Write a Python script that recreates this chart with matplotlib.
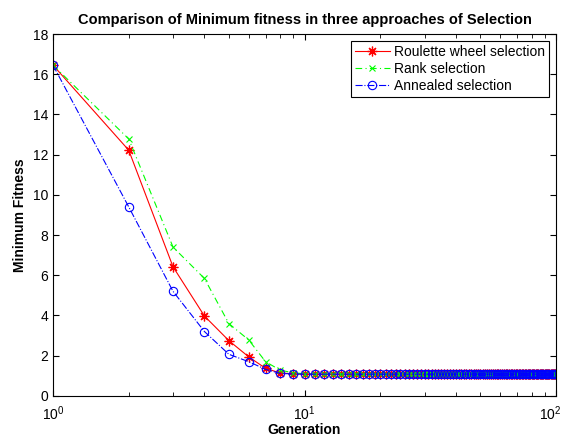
import matplotlib
matplotlib.use('Agg')
import matplotlib.pyplot as plt
import matplotlib.transforms as mtransforms
from matplotlib.ticker import LogLocator, NullFormatter

plt.rcParams['font.family'] = ['Liberation Sans', 'DejaVu Sans']

# generations 1..100
generation = list(range(1, 101))

roulette = [16.45, 12.22, 6.42, 3.97, 2.75, 1.94, 1.37, 1.14, 1.10, 1.09,
            1.08, 1.08, 1.08, 1.08, 1.08, 1.08, 1.08, 1.08, 1.08, 1.08,
            1.08, 1.08, 1.08, 1.08, 1.08, 1.08, 1.08, 1.08, 1.08, 1.08,
            1.08, 1.08, 1.08, 1.08, 1.08, 1.08, 1.08, 1.08, 1.08, 1.08,
            1.08, 1.08, 1.08, 1.08, 1.08, 1.08, 1.08, 1.08, 1.08, 1.08,
            1.08, 1.08, 1.08, 1.08, 1.08, 1.08, 1.08, 1.08, 1.08, 1.08,
            1.08, 1.08, 1.08, 1.08, 1.08, 1.08, 1.08, 1.08, 1.08, 1.08,
            1.08, 1.08, 1.08, 1.08, 1.08, 1.08, 1.08, 1.08, 1.08, 1.08,
            1.08, 1.08, 1.08, 1.08, 1.08, 1.08, 1.08, 1.08, 1.08, 1.08,
            1.08, 1.08, 1.08, 1.08, 1.08, 1.08, 1.08, 1.08, 1.08, 1.08]

rank = [16.45, 12.78, 7.40, 5.84, 3.60, 2.78, 1.70, 1.28, 1.15, 1.10,
        1.08, 1.08, 1.08, 1.08, 1.08, 1.08, 1.08, 1.08, 1.08, 1.08,
        1.08, 1.08, 1.08, 1.08, 1.08, 1.08, 1.08, 1.08, 1.08, 1.08,
        1.08, 1.08, 1.08, 1.08, 1.08, 1.08, 1.08, 1.08, 1.08, 1.08,
        1.08, 1.08, 1.08, 1.08, 1.08, 1.08, 1.08, 1.08, 1.08, 1.08,
        1.08, 1.08, 1.08, 1.08, 1.08, 1.08, 1.08, 1.08, 1.08, 1.08,
        1.08, 1.08, 1.08, 1.08, 1.08, 1.08, 1.08, 1.08, 1.08, 1.08,
        1.08, 1.08, 1.08, 1.08, 1.08, 1.08, 1.08, 1.08, 1.08, 1.08,
        1.08, 1.08, 1.08, 1.08, 1.08, 1.08, 1.08, 1.08, 1.08, 1.08,
        1.08, 1.08, 1.08, 1.08, 1.08, 1.08, 1.08, 1.08, 1.08, 1.08]

annealed = [16.45, 9.40, 5.20, 3.20, 2.07, 1.70, 1.32, 1.12, 1.09, 1.08,
            1.08, 1.08, 1.08, 1.08, 1.08, 1.08, 1.08, 1.08, 1.08, 1.08,
            1.08, 1.08, 1.08, 1.08, 1.08, 1.08, 1.08, 1.08, 1.08, 1.08,
            1.08, 1.08, 1.08, 1.08, 1.08, 1.08, 1.08, 1.08, 1.08, 1.08,
            1.08, 1.08, 1.08, 1.08, 1.08, 1.08, 1.08, 1.08, 1.08, 1.08,
            1.08, 1.08, 1.08, 1.08, 1.08, 1.08, 1.08, 1.08, 1.08, 1.08,
            1.08, 1.08, 1.08, 1.08, 1.08, 1.08, 1.08, 1.08, 1.08, 1.08,
            1.08, 1.08, 1.08, 1.08, 1.08, 1.08, 1.08, 1.08, 1.08, 1.08,
            1.08, 1.08, 1.08, 1.08, 1.08, 1.08, 1.08, 1.08, 1.08, 1.08,
            1.08, 1.08, 1.08, 1.08, 1.08, 1.08, 1.08, 1.08, 1.08, 1.08]

fig = plt.figure(figsize=(5.64, 4.36), dpi=100)
ax = fig.add_axes([0.094, 0.092, 0.892, 0.830])

# asterisk marker: 8 spokes from the centre
ax.semilogx(generation, roulette, color='#ff0000', linestyle='-', linewidth=0.8,
            marker=(8, 2, 0), markersize=7, markeredgewidth=0.9,
            label='Roulette wheel selection')
ax.semilogx(generation, rank, color='#00ff00', linestyle='--', linewidth=0.8,
            dashes=(6, 3, 1, 3), marker='x', markersize=4, markeredgewidth=0.8,
            label='Rank selection')
ax.semilogx(generation, annealed, color='#0000ff', linestyle='-.', linewidth=0.8,
            marker='o', markersize=6, markerfacecolor='none', markeredgewidth=0.8,
            label='Annealed selection')

ax.set_xlim(1, 100)
ax.set_ylim(0, 18)
ax.set_yticks(range(0, 19, 2))
ax.xaxis.set_minor_locator(LogLocator(base=10, subs=range(2, 10)))
ax.xaxis.set_minor_formatter(NullFormatter())
ax.tick_params(which='both', direction='in', top=True, right=True, labelsize=10)
ax.tick_params(which='major', length=4)
ax.tick_params(which='minor', length=3)
ax.tick_params(axis='x', which='major', pad=6)

ax.set_title('Comparison of Minimum fitness in three approaches of Selection',
             fontsize=10.5, fontweight='bold', pad=7)
ax.set_xlabel('Generation', fontsize=10, fontweight='bold', labelpad=0)
ax.set_ylabel('Minimum Fitness', fontsize=10, fontweight='bold', labelpad=4)

leg = ax.legend(loc='upper right', fontsize=10, fancybox=False, framealpha=1,
                edgecolor='black', borderaxespad=0.5, handlelength=2.5,
                borderpad=0.3, labelspacing=0.2, handletextpad=0.3)
leg.get_frame().set_linewidth(0.8)

# keep the last decade label inside the figure
fig.canvas.draw()
for lbl in ax.get_xticklabels():
    if lbl.get_position()[0] == 100:
        lbl.set_transform(lbl.get_transform() +
                          mtransforms.ScaledTranslation(-6 / 100, 0, fig.dpi_scale_trans))

fig.savefig('out.png', dpi=100, facecolor='white')
